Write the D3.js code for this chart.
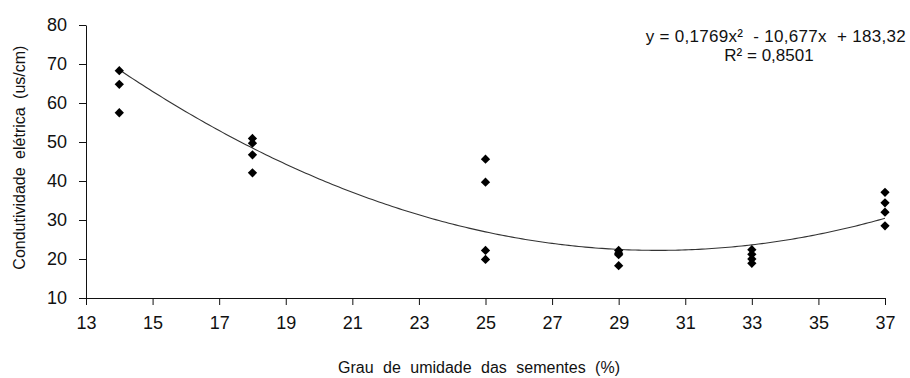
<!DOCTYPE html>
<html>
<head>
<meta charset="utf-8">
<script src="https://cdn.jsdelivr.net/npm/d3@7"></script>
<style>
  body { margin: 0; background: #fff; }
  text { font-family: "Liberation Sans", Arial, sans-serif; fill: #111; }
</style>
</head>
<body>
<div id="chart"></div>
<script>
// data
const umidade = [14, 14, 14, 18, 18, 18, 18, 25, 25, 25, 25, 29, 29, 29, 29, 33, 33, 33, 33, 37, 37, 37, 37];
const condutividade = [68.3, 64.8, 57.5, 50.9, 49.7, 46.7, 42.1, 45.6, 39.7, 22.2, 19.9, 22.2, 21.5, 21.1, 18.3, 22.4, 21.2, 20.0, 18.9, 37.1, 34.4, 32.0, 28.5];
const xTicks = [13, 15, 17, 19, 21, 23, 25, 27, 29, 31, 33, 35, 37];
const yTicks = [10, 20, 30, 40, 50, 60, 70, 80];
const coef = {a: 0.1769, b: -10.677, c: 183.32};

let margin = {top: 25, right: 25, bottom: 80, left: 86};

let svg = d3.select("#chart").append("svg")
    .attr("width", 910)
    .attr("height", 378)
    .append("g")
    .attr("transform", `translate(${margin.left},${margin.top})`);

let x = d3.scaleLinear().domain([13, 37]).range([0, 799]);
let y = d3.scaleLinear().domain([10, 80]).range([273, 0]);

// axes
let xAxis = d3.axisBottom(x).tickValues(xTicks).tickSize(7).tickSizeOuter(0);
let yAxis = d3.axisLeft(y).tickValues(yTicks).tickSize(7).tickSizeOuter(0);

let gx = svg.append("g")
    .attr("transform", `translate(0,${y(10)})`)
    .call(xAxis);
let gy = svg.append("g").call(yAxis);

[gx, gy].forEach(g => {
    g.select(".domain").attr("stroke", "#111");
    g.selectAll(".tick line").attr("stroke", "#111");
    g.selectAll(".tick text").style("font-size", "18px").attr("fill", "#111");
});
gx.selectAll(".tick text").attr("y", 18);
gy.selectAll(".tick text").attr("x", -19);

// trend curve
let curve = d3.range(14, 37.001, 0.1).map(v => [v, coef.a * v * v + coef.b * v + coef.c]);
svg.append("path")
    .datum(curve)
    .attr("fill", "none")
    .attr("stroke", "#333")
    .attr("stroke-width", 1.1)
    .attr("d", d3.line().x(d => x(d[0])).y(d => y(d[1])));

// points
svg.selectAll(".pt")
    .data(umidade.map((u, i) => [u, condutividade[i]]))
    .enter().append("path")
    .attr("class", "pt")
    .attr("transform", d => `translate(${x(d[0])},${y(d[1])})`)
    .attr("d", d3.symbol().type(d3.symbolDiamond2).size(55))
    .attr("fill", "#000");

// equation
svg.append("text")
    .attr("x", 820)
    .attr("y", 17)
    .attr("text-anchor", "end")
    .style("font-size", "17px")
    .style("white-space", "pre")
    .style("letter-spacing", "0.3px")
    .text("y = 0,1769x²  - 10,677x  + 183,32");
svg.append("text")
    .attr("x", 683)
    .attr("y", 36)
    .attr("text-anchor", "middle")
    .style("font-size", "17px")
    .text("R² = 0,8501");

// axis titles
svg.append("text")
    .attr("x", 393)
    .attr("y", 348)
    .attr("text-anchor", "middle")
    .style("font-size", "16px")
    .style("word-spacing", "5px")
    .text("Grau de umidade das sementes (%)");

svg.append("text")
    .attr("transform", `translate(-61,${y(46)}) rotate(-90)`)
    .attr("text-anchor", "middle")
    .style("font-size", "16px")
    .style("word-spacing", "4px")
    .text("Condutividade elétrica (us/cm)");
</script>
</body>
</html>
